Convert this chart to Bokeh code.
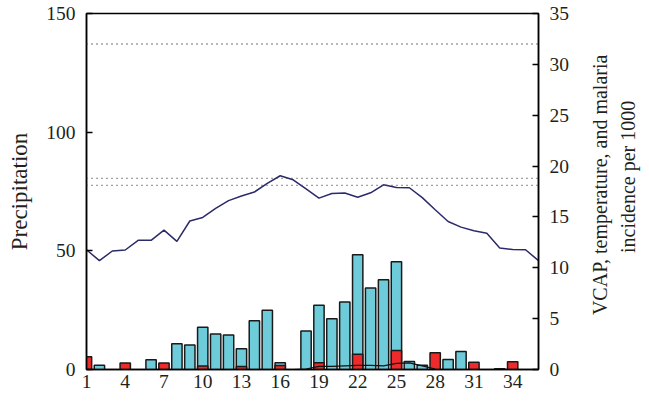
import math
from bokeh.plotting import figure
from bokeh.layouts import row
from bokeh.models import Range1d, LinearAxis, FixedTicker, Span
from bokeh.core.properties import value
from bokeh.embed import file_html
from bokeh.resources import INLINE

# ---- data ----
weeks = list(range(1, 36))
precipitation = [0, 1.8, 0, 0, 0, 4.1, 0, 10.8, 10.3, 17.8,
                 15.0, 14.5, 8.7, 20.5, 25.0, 2.8, 0, 16.2, 27.1, 21.4,
                 28.4, 48.3, 34.3, 37.8, 45.4, 3.4, 1.8, 0, 4.2, 7.6,
                 0, 0, 0.3, 0, 0]
malaria_weeks = [1, 4, 7, 10, 13, 16, 19, 22, 25, 28, 31, 34]
malaria = [1.25, 0.65, 0.65, 0.35, 0.3, 0.4, 0.66, 1.5, 1.87, 1.64, 0.72, 0.75]
vcap_weeks = [17, 18, 19, 20, 21, 22, 23, 24, 25, 26, 27, 28]
vcap = [0, 0.05, 0.3, 0.3, 0.35, 0.4, 0.4, 0.35, 0.6, 0.65, 0.35, 0.05]
temp_weeks = list(range(1, 37))
temperature = [11.77, 10.7, 11.65, 11.75, 12.7, 12.7, 13.7, 12.6, 14.6, 14.95,
               15.85, 16.6, 17.05, 17.45, 18.3, 19.05, 18.65, 17.75, 16.85, 17.3,
               17.35, 16.94, 17.37, 18.16, 17.9, 17.87, 16.9, 15.7, 14.55, 14.0,
               13.65, 13.4, 11.95, 11.8, 11.77, 10.7]
thresholds = [18.1, 18.8, 32.0]
x_ticks = [1, 4, 7, 10, 13, 16, 19, 22, 25, 28, 31, 34]
left_ticks = [0, 50, 100, 150]
right_ticks = [0, 5, 10, 15, 20, 25, 30, 35]
right_title = ["VCAP, temperature, and malaria", "incidence per 1000"]

FONT = "Liberation Serif"
INK = "#231f20"

p = figure(frame_width=452, frame_height=356,
           x_range=Range1d(1, 36), y_range=Range1d(0, 150),
           output_backend="svg", toolbar_location=None,
           min_border_left=86, min_border_right=37,
           min_border_top=13, min_border_bottom=33)
p.extra_y_ranges = {"right": Range1d(0, 35)}
p.grid.visible = False
p.background_fill_color = "white"
p.border_fill_color = "white"
p.outline_line_color = "black"
p.outline_line_width = 1.5

# precipitation bars (left axis)
pw = [w for w, v in zip(weeks, precipitation) if v > 0]
pv = [v for v in precipitation if v > 0]
p.vbar(x=pw, top=pv, bottom=0, width=0.8, fill_color="#6ecbd9",
       line_color="#1a1a1a", line_width=1.5)

# malaria incidence bars (right axis)
p.vbar(x=malaria_weeks, top=malaria, bottom=0, width=0.8, fill_color="#ee2a2a",
       line_color="#1a1a1a", line_width=1.5, y_range_name="right")

# VCAP line
p.line(vcap_weeks, vcap, line_color="#111111", line_width=1.2, y_range_name="right")

# temperature line
p.line(temp_weeks, temperature, line_color="#2b2a6b", line_width=1.5,
       y_range_name="right")

for th in thresholds:
    p.add_layout(Span(location=th, dimension="width", y_range_name="right",
                      line_color="#444444", line_width=1.3, line_dash="1 4"))

# axes
xa = p.xaxis[0]
xa.ticker = FixedTicker(ticks=x_ticks)
xa.major_tick_in = 0
xa.major_tick_out = 0
xa.minor_tick_line_color = None
xa.major_label_standoff = 5

ya = p.yaxis[0]
ya.ticker = FixedTicker(ticks=left_ticks)
ya.major_tick_in = 6
ya.major_tick_out = 0
ya.minor_tick_line_color = None
ya.major_label_standoff = 11
ya.axis_label = "Precipitation"
ya.axis_label_standoff = 11

ra = LinearAxis(y_range_name="right", ticker=FixedTicker(ticks=right_ticks))
ra.major_tick_in = 6
ra.major_tick_out = 0
ra.minor_tick_line_color = None
ra.major_label_standoff = 11
p.add_layout(ra, "right")

for ax in [xa, ya, ra]:
    ax.axis_line_color = "black"
    ax.axis_line_width = 1.5
    ax.major_tick_line_color = "black"
    ax.major_tick_line_width = 1.5
    ax.major_label_text_font = FONT
    ax.major_label_text_font_size = "19.5px"
    ax.major_label_text_color = INK
    ax.axis_label_text_font = FONT
    ax.axis_label_text_font_size = "23px"
    ax.axis_label_text_font_style = "normal"
    ax.axis_label_text_color = INK

# right-hand title panel (two lines reading bottom to top)
t = figure(width=74, height=402, x_range=Range1d(0, 74), y_range=Range1d(0, 402),
           output_backend="svg", toolbar_location=None,
           min_border=0, min_border_left=0, min_border_right=0,
           min_border_top=0, min_border_bottom=0)
t.axis.visible = False
t.grid.visible = False
t.outline_line_color = None
t.background_fill_color = "white"
t.border_fill_color = "white"
t.text(x=[24, 52.5], y=[208.5, 217.5], text=right_title, angle=math.pi / 2,
       text_align="center", text_baseline="middle",
       text_font=value(FONT), text_font_size="20px", text_color=INK)

layout = row(p, t, spacing=0)
open("out.html", "w").write(file_html(layout, INLINE))
